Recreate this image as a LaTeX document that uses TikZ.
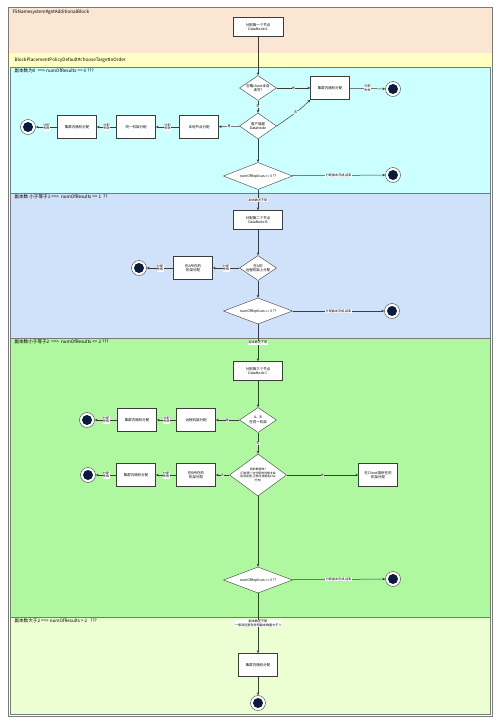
\documentclass[tikz,border=0pt]{standalone}
\usepackage{fontspec}
\setmainfont{Noto Sans CJK SC}
\usetikzlibrary{shapes.geometric,arrows.meta}
\definecolor{peach}{HTML}{FBE5D3}
\definecolor{sunny}{HTML}{FFFFC4}
\definecolor{aqua}{HTML}{CCFFFF}
\definecolor{sky}{HTML}{CFE2FA}
\definecolor{grass}{HTML}{AFF8A0}
\definecolor{lime}{HTML}{EBFFD2}
\definecolor{navy}{HTML}{0B1B3F}
\definecolor{linegray}{HTML}{3C3C3C}
\definecolor{lanegray}{HTML}{7A7A7A}
\begin{document}
\begin{tikzpicture}[x=1pt,y=-1pt,
  every node/.style={font=\fontsize{3.5}{4.3}\selectfont},
  lanetitle/.style={anchor=west,font=\fontsize{4.6}{5.5}\selectfont},
  box/.style={draw=linegray,fill=white,minimum width=39pt,minimum height=23pt,align=center,inner sep=1pt},
  choice/.style={diamond,aspect=1.5,draw=linegray,fill=white,minimum width=37pt,minimum height=25pt,align=center,inner sep=0pt},
  check/.style={choice,aspect=2.6,minimum width=69pt,minimum height=27pt},
  finish/.style={circle,draw=linegray,fill=white,minimum size=15pt,inner sep=0pt,
    path picture={\fill[navy] (path picture bounding box.center) circle (5pt);}},
  lane/.style={draw=lanegray,line width=0.6pt},
  flow/.style={-{Stealth[length=3pt,width=2.6pt]},draw=linegray,line width=0.5pt},
  lbl/.style={fill=white,inner sep=0.4pt,font=\fontsize{3.1}{3.6}\selectfont,align=center}]
\useasboundingbox (0,0) rectangle (500,724);
\fill[white] (0,0) rectangle (500,724);
\fill[peach] (8,7) rectangle (492,53);
\fill[sunny] (8,53) rectangle (492,67);
\filldraw[lane,fill=aqua] (10,67) rectangle (490,193);
\filldraw[lane,fill=sky] (10,193) rectangle (490,338);
\filldraw[lane,fill=grass] (10,338) rectangle (490,617);
\filldraw[lane,fill=lime] (10,617) rectangle (490,714);
\draw[lane] (8,7) rectangle (492,716);
\node[lanetitle] (titleTop) at (9,12) {FSNamesystem\#getAdditionalBlock};
\node[lanetitle] (titlePolicy) at (11,60) {BlockPlacementPolicyDefault\#chooseTargetInOrder};
\node[lanetitle] (titleZero) at (11,71) {副本数为0 \ ==> numOfResults == 0 ???};
\node[lanetitle] (titleOne) at (11,197) {副本数 小于等于1 ==> \ numOfResults == 1 \ ??};
\node[lanetitle] (titleTwo) at (11,342) {副本数小于等于2 \ ==> \ numOfResults <= 2 ???};
\node[lanetitle] (titleMore) at (11,621) {副本数大于2 ==> numOfResults > 2 \ \ ???};
\node[box,minimum width=50pt,minimum height=19pt] (nodeA) at (258,27) {分配第一个节点\\DataNode A};
\node[choice] (ignoreA) at (258,88) {忽略client本身\\读写?};
\node[box] (randA1) at (330,88) {集群内随机分配};
\node[finish] (endA1) at (393,89) {};
\node[choice,minimum height=26pt] (isDN) at (258,126) {客户端是\\DataNode};
\node[box] (localA) at (199,127) {本地节点分配};
\node[box] (rackA) at (136,127) {同一机架分配};
\node[box] (randA2) at (77,127) {集群内随机分配};
\node[finish] (endA2) at (28,127) {};
\node[check] (doneA) at (258,176) {numOfReplicas == 0 ??};
\node[finish] (endA3) at (393,175) {};
\node[box,minimum width=49pt,minimum height=19pt] (nodeB) at (258,220) {分配第二个节点\\DataNode B};
\node[choice] (remoteB) at (258,268) {在A的\\远程机架上分配};
\node[box] (sameB) at (193,268) {在A所在的\\机架分配};
\node[finish] (endB1) at (139,268) {};
\node[check,minimum height=26pt] (doneB) at (258,311) {numOfReplicas == 0 ??};
\node[finish] (endB2) at (392,311) {};
\node[box,minimum width=49pt,minimum height=19pt] (nodeC) at (258,371) {分配第三个节点\\DataNode C};
\node[choice] (sameC) at (258,420) {A、B\\在同一机架};
\node[box] (remoteC) at (196,420) {远程机架分配};
\node[box] (randC1) at (137,420) {集群内随机分配};
\node[finish] (endC1) at (87,420) {};
\node[choice,aspect=1.4,minimum width=57pt,minimum height=42pt,font=\fontsize{2.9}{3.5}\selectfont] (newC) at (258,475)
  {新的数据块?\\(只有第一次分配的时候才会\\走到这里,正常应该是走else\\分支)};
\node[box] (clientC) at (378,475) {在Client端所在的\\机架分配};
\node[box] (rackC) at (196,475) {在B所在的\\机架分配};
\node[box] (randC2) at (136,475) {集群内随机分配};
\node[finish] (endC2) at (88,475) {};
\node[check,minimum height=26pt] (doneC) at (258,580) {numOfReplicas == 0 ??};
\node[finish] (endC3) at (393,579) {};
\node[box] (randD) at (258,665) {集群内随机分配};
\node[finish] (endD) at (258,703) {};
\draw[flow] (nodeA) -- (ignoreA);
\draw[flow] (ignoreA) -- node[lbl]{是} (randA1);
\draw[flow] (randA1) -- node[lbl]{分配\\失败} (endA1);
\draw[flow] (ignoreA) -- node[lbl]{否} (isDN);
\draw[flow] (isDN.east) to[out=35,in=225] node[lbl,pos=0.55]{否} (randA1.south west);
\draw[flow] (isDN) -- node[lbl]{是} (localA);
\draw[flow] (localA) -- node[lbl]{分配\\失败} (rackA);
\draw[flow] (rackA) -- node[lbl]{分配\\失败} (randA2);
\draw[flow] (randA2) -- node[lbl]{分配\\失败} (endA2);
\draw[flow] (isDN) -- (doneA);
\draw[flow] (doneA) -- node[lbl]{分配副本完成,结束} (endA3);
\draw[flow] (doneA) -- node[lbl]{副本数还不够} (nodeB);
\draw[flow] (nodeB) -- (remoteB);
\draw[flow] (remoteB) -- node[lbl]{分配\\失败} (sameB);
\draw[flow] (sameB) -- node[lbl]{分配\\失败} (endB1);
\draw[flow] (remoteB) -- (doneB);
\draw[flow] (doneB) -- node[lbl]{分配副本完成,结束} (endB2);
\draw[flow] (doneB) -- node[lbl]{副本数还不够} (nodeC);
\draw[flow] (nodeC) -- (sameC);
\draw[flow] (sameC) -- node[lbl]{是} (remoteC);
\draw[flow] (remoteC) -- node[lbl]{分配\\失败} (randC1);
\draw[flow] (randC1) -- node[lbl]{分配\\失败} (endC1);
\draw[flow] (sameC) -- node[lbl]{否} (newC);
\draw[flow] (newC) -- node[lbl]{是} (clientC);
\draw[flow] (newC) -- node[lbl]{否} (rackC);
\draw[flow] (rackC) -- node[lbl]{分配\\失败} (randC2);
\draw[flow] (randC2) -- node[lbl]{分配\\失败} (endC2);
\draw[flow] (newC) -- (doneC);
\draw[flow] (doneC) -- node[lbl]{分配副本完成,结束} (endC3);
\draw[flow] (doneC) -- node[lbl]{副本数还不够\\一般到这里就说明副本数量大于 3} (randD);
\draw[flow] (randD) -- (endD);
\end{tikzpicture}
\end{document}
